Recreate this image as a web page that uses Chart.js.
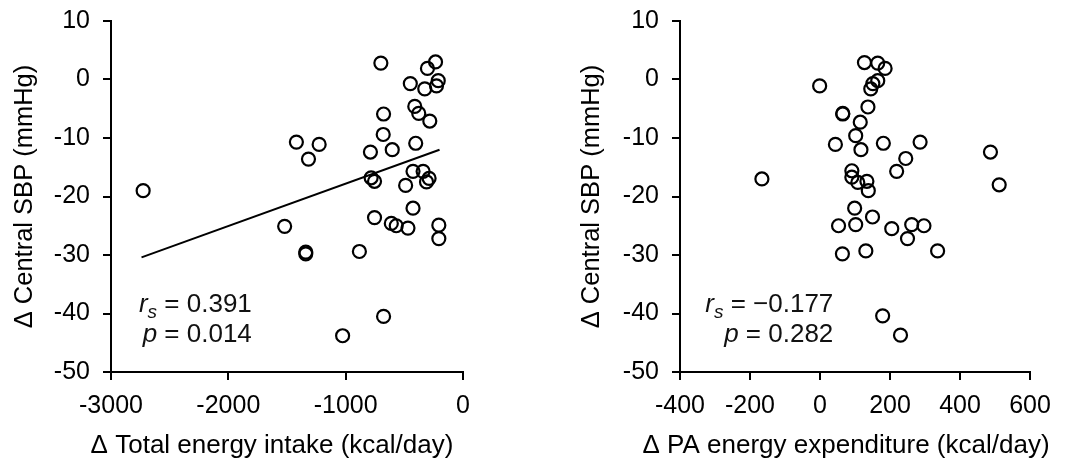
<!doctype html>
<html lang="en">
  <head>
    <meta charset="utf-8">
    <title>Central SBP vs energy</title>
    <style>
      * { margin: 0; padding: 0; }
      body { width: 1067px; height: 466px; background: #fff; position: relative; overflow: hidden; }
      .box { position: absolute; top: 0; height: 466px; }
      #leftBox { left: 0; width: 533px; }
      #rightBox { left: 533px; width: 534px; }
    </style>
  </head>
  <body>
    <div class="box" id="leftBox"><canvas id="leftChart" width="533" height="466"></canvas></div>
    <div class="box" id="rightBox"><canvas id="rightChart" width="534" height="466"></canvas></div>

    <script src="https://cdn.jsdelivr.net/npm/chart.js"></script>
    <script>
      // Δ central SBP (mmHg), same participants in both panels
      const sbpIntake = [2.8, 3.0, 1.9, -0.2, -0.7, -1.6, -1.1, -4.6, -5.8, -5.9, -7.1, -9.4, -10.7, -11.1, -10.9, -13.6, -12.4, -12.0, -15.7, -15.7, -16.9, -17.5, -16.8, -17.4, -18.1, -19.0, -23.6, -22.0, -24.6, -25.0, -25.4, -24.9, -27.2, -25.1, -29.5, -29.8, -29.4, -40.5, -43.8];
      const energyIntake = [-700, -234, -303, -211, -449, -326, -226, -411, -377, -677, -283, -680, -1420, -1226, -403, -1317, -789, -603, -426, -340, -289, -311, -783, -754, -489, -2726, -754, -426, -611, -569, -469, -206, -206, -1520, -1340, -1340, -883, -677, -1026];

      const sbpPA = [2.9, 2.8, 1.9, -1.1, -0.2, -0.7, -1.6, -4.7, -5.8, -5.9, -7.3, -9.6, -11.1, -10.9, -10.7, -12.0, -13.5, -12.4, -15.7, -15.6, -16.7, -17.6, -17.4, -19.0, -17.0, -18.0, -22.0, -23.5, -25.0, -24.8, -25.5, -24.8, -25.0, -27.2, -29.8, -29.3, -29.3, -40.4, -43.7];
      const paExpenditure = [127, 165, 186, -1, 165, 151, 145, 137, 65, 65, 115, 102, 44, 181, 286, 117, 245, 487, 219, 91, 91, 108, 134, 138, -166, 512, 99, 150, 53, 102, 205, 262, 297, 250, 64, 131, 336, 179, 230];

      // fitted line ends (left panel)
      const fitX = [-2740, -200];
      const fitY = [-30.4, -12.0];

      const sbpTicks = { min: -50, max: 10, step: 10 };
      const intakeTicks = { min: -3000, max: 0, step: 1000 };
      const paTicks = { min: -400, max: 600, step: 200 };

      const yTitle = 'Δ Central SBP (mmHg)';
      const stats = {
        left: { r: ' = 0.391', p: ' = 0.014' },
        right: { r: ' = −0.177', p: ' = 0.282' }
      };

      const FONT = "'Liberation Sans', Arial, sans-serif";
      Chart.defaults.font.family = FONT;
      Chart.defaults.color = '#000';

      function toPoints(xs, ys) {
        return xs.map((x, i) => ({ x: x, y: ys[i] }));
      }

      // r_s / p annotation (right aligned) and the x axis title
      function textPlugin(txt, xRight, xTitle, titleShift) {
        return {
          id: 'panelText',
          afterDatasetsDraw(chart) {
            const ctx = chart.ctx;
            const right = chart.scales.x.getPixelForValue(xRight);
            const y1 = chart.scales.y.getPixelForValue(-39.8);
            const y2 = chart.scales.y.getPixelForValue(-44.9);
            ctx.save();
            ctx.fillStyle = '#111';
            ctx.textBaseline = 'alphabetic';
            ctx.textAlign = 'left';
            const norm = '26px ' + FONT;
            const ital = 'italic 26px ' + FONT;
            const sub = 'italic 19px ' + FONT;
            // line 1: r_s = ...
            ctx.font = ital; const wr = ctx.measureText('r').width;
            ctx.font = sub; const ws = ctx.measureText('s').width;
            ctx.font = norm; const wt = ctx.measureText(txt.r).width;
            let x = right - (wr + ws + wt);
            ctx.font = ital; ctx.fillText('r', x, y1); x += wr;
            ctx.font = sub; ctx.fillText('s', x, y1 + 6); x += ws;
            ctx.font = norm; ctx.fillText(txt.r, x, y1);
            // line 2: p = ...
            ctx.font = ital; const wp = ctx.measureText('p').width;
            ctx.font = norm; const wt2 = ctx.measureText(txt.p).width;
            x = right - (wp + wt2);
            ctx.font = ital; ctx.fillText('p', x, y2); x += wp;
            ctx.font = norm; ctx.fillText(txt.p, x, y2);

            // x axis title (drawn here so it is not squeezed to the axis width)
            const area = chart.chartArea;
            ctx.fillStyle = '#000';
            ctx.font = '26px ' + FONT;
            ctx.textAlign = 'center';
            ctx.textBaseline = 'middle';
            ctx.fillText(xTitle, (area.left + area.right) / 2 + titleShift, 446);
            ctx.restore();
          }
        };
      }

      function axisGrid() {
        return { display: true, drawOnChartArea: false, drawTicks: true, tickLength: 8, color: '#000', lineWidth: 2 };
      }

      function makeChart(id, datasets, xr, xTitle, titleShift, pad, yTitlePad, txt, txtX) {
        return new Chart(document.getElementById(id), {
          type: 'scatter',
          data: { datasets: datasets },
          options: {
            responsive: false,
            animation: false,
            layout: { padding: pad },
            plugins: { legend: { display: false }, tooltip: { enabled: false } },
            scales: {
              x: {
                type: 'linear',
                min: xr.min, max: xr.max,
                afterFit(s) { s.height = 94; s.paddingLeft = 0; s.paddingRight = 0; },
                grid: axisGrid(),
                border: { display: true, color: '#000', width: 2 },
                ticks: { stepSize: xr.step, padding: 11, font: { size: 25 }, color: '#000', callback: v => String(v) }
              },
              y: {
                min: sbpTicks.min, max: sbpTicks.max,
                afterFit(s) { s.width = 111; s.paddingTop = 0; s.paddingBottom = 0; },
                grid: axisGrid(),
                border: { display: true, color: '#000', width: 2 },
                ticks: { stepSize: sbpTicks.step, padding: 13, font: { size: 25 }, color: '#000', callback: v => String(v) },
                title: { display: true, text: yTitle, font: { size: 25.5 }, color: '#000', padding: { top: yTitlePad, bottom: 0 } }
              }
            }
          },
          plugins: [textPlugin(txt, txtX, xTitle, titleShift)]
        });
      }

      const pointStyle = {
        pointRadius: 6.5,
        pointBorderWidth: 2.2,
        pointBackgroundColor: 'rgba(0,0,0,0)',
        pointBorderColor: '#000',
        showLine: false
      };

      makeChart('leftChart', [
        Object.assign({ data: toPoints(energyIntake, sbpIntake) }, pointStyle),
        { data: toPoints(fitX, fitY), showLine: true, borderColor: '#000', borderWidth: 2, pointRadius: 0 }
      ], intakeTicks, 'Δ Total energy intake (kcal/day)', -15, { left: 0, right: 70, top: 21, bottom: 0 }, 10, stats.left, -1800);

      makeChart('rightChart', [
        Object.assign({ data: toPoints(paExpenditure, sbpPA) }, pointStyle)
      ], paTicks, 'Δ PA energy expenditure (kcal/day)', -9, { left: 36, right: 37, top: 21, bottom: 0 }, 8, stats.right, 38);
    </script>
  </body>
</html>
